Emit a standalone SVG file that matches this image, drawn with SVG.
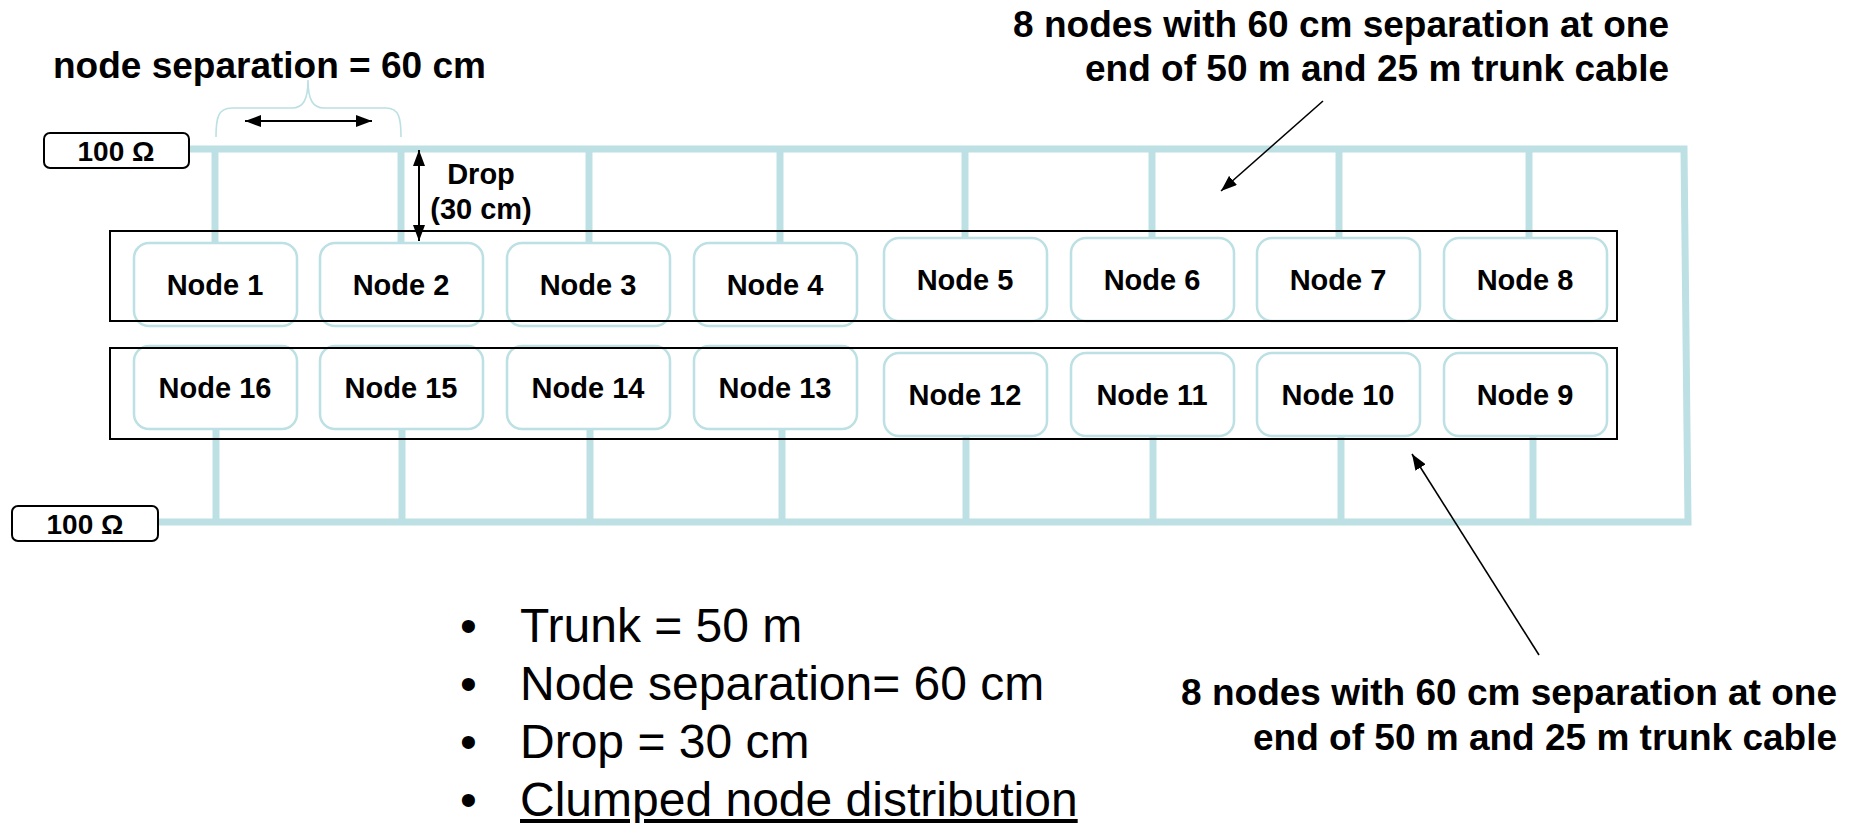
<svg xmlns="http://www.w3.org/2000/svg" width="1860" height="823" viewBox="0 0 1860 823">
<defs>
<style>
.cable{stroke:#bce0e3;stroke-width:7;fill:none;stroke-linecap:square}
.drop{stroke:#bce0e3;stroke-width:7;fill:none}
.node{fill:#ffffff;stroke:#bce0e3;stroke-width:2.5}
.lbl{font-family:"Liberation Sans",Arial,sans-serif;font-weight:bold;font-size:29px;fill:#000;text-anchor:middle}
.grp{fill:none;stroke:#000;stroke-width:2}
.term{fill:#fff;stroke:#000;stroke-width:2}
.bold{font-family:"Liberation Sans",Arial,sans-serif;font-weight:bold;fill:#000}
.reg{font-family:"Liberation Sans",Arial,sans-serif;fill:#000;font-size:48px}
.arr{stroke:#000;stroke-width:2;fill:none}
.thin{stroke:#000;stroke-width:1.6;fill:none}
</style>
<marker id="ah" viewBox="0 0 16 12" refX="16" refY="6" markerWidth="16" markerHeight="12" markerUnits="userSpaceOnUse" orient="auto-start-reverse">
<path d="M0,0 L16,6 L0,12 z" fill="#000"/>
</marker>
</defs>
<rect width="1860" height="823" fill="#ffffff"/>

<g id="connectors">
<path class="cable" d="M189,149 L1684,149 L1688,522 L158,522"/>
<line class="drop" x1="215" y1="149" x2="215" y2="244"/>
<line class="drop" x1="401" y1="149" x2="401" y2="244"/>
<line class="drop" x1="589" y1="149" x2="589" y2="244"/>
<line class="drop" x1="780" y1="149" x2="780" y2="244"/>
<line class="drop" x1="965" y1="149" x2="965" y2="239"/>
<line class="drop" x1="1152" y1="149" x2="1152" y2="239"/>
<line class="drop" x1="1339" y1="149" x2="1339" y2="239"/>
<line class="drop" x1="1529" y1="149" x2="1529" y2="239"/>
<line class="drop" x1="216" y1="428" x2="216" y2="522"/>
<line class="drop" x1="402" y1="428" x2="402" y2="522"/>
<line class="drop" x1="590" y1="428" x2="590" y2="522"/>
<line class="drop" x1="782" y1="428" x2="782" y2="522"/>
<line class="drop" x1="966" y1="435" x2="966" y2="522"/>
<line class="drop" x1="1153" y1="435" x2="1153" y2="522"/>
<line class="drop" x1="1341" y1="435" x2="1341" y2="522"/>
<line class="drop" x1="1533" y1="435" x2="1533" y2="522"/>
</g>

<g id="term-top">
<rect class="term" x="44" y="133" width="145" height="35" rx="6"/>
<text class="bold" x="116" y="161" font-size="28" text-anchor="middle">100 Ω</text>
</g>
<g id="term-bottom">
<rect class="term" x="12" y="506" width="146" height="35" rx="6"/>
<text class="bold" x="85" y="534" font-size="28" text-anchor="middle">100 Ω</text>
</g>

<g id="node1"><rect class="node" x="134" y="243" width="163" height="83" rx="15"/><text class="lbl" x="215" y="295">Node 1</text></g>
<g id="node2"><rect class="node" x="320" y="243" width="163" height="83" rx="15"/><text class="lbl" x="401" y="295">Node 2</text></g>
<g id="node3"><rect class="node" x="507" y="243" width="163" height="83" rx="15"/><text class="lbl" x="588" y="295">Node 3</text></g>
<g id="node4"><rect class="node" x="694" y="243" width="163" height="83" rx="15"/><text class="lbl" x="775" y="295">Node 4</text></g>
<g id="node5"><rect class="node" x="884" y="238" width="163" height="83" rx="15"/><text class="lbl" x="965" y="290">Node 5</text></g>
<g id="node6"><rect class="node" x="1071" y="238" width="163" height="83" rx="15"/><text class="lbl" x="1152" y="290">Node 6</text></g>
<g id="node7"><rect class="node" x="1257" y="238" width="163" height="83" rx="15"/><text class="lbl" x="1338" y="290">Node 7</text></g>
<g id="node8"><rect class="node" x="1444" y="238" width="163" height="83" rx="15"/><text class="lbl" x="1525" y="290">Node 8</text></g>

<g id="node16"><rect class="node" x="134" y="346" width="163" height="83" rx="15"/><text class="lbl" x="215" y="398">Node 16</text></g>
<g id="node15"><rect class="node" x="320" y="346" width="163" height="83" rx="15"/><text class="lbl" x="401" y="398">Node 15</text></g>
<g id="node14"><rect class="node" x="507" y="346" width="163" height="83" rx="15"/><text class="lbl" x="588" y="398">Node 14</text></g>
<g id="node13"><rect class="node" x="694" y="346" width="163" height="83" rx="15"/><text class="lbl" x="775" y="398">Node 13</text></g>
<g id="node12"><rect class="node" x="884" y="353" width="163" height="83" rx="15"/><text class="lbl" x="965" y="405">Node 12</text></g>
<g id="node11"><rect class="node" x="1071" y="353" width="163" height="83" rx="15"/><text class="lbl" x="1152" y="405">Node 11</text></g>
<g id="node10"><rect class="node" x="1257" y="353" width="163" height="83" rx="15"/><text class="lbl" x="1338" y="405">Node 10</text></g>
<g id="node9"><rect class="node" x="1444" y="353" width="163" height="83" rx="15"/><text class="lbl" x="1525" y="405">Node 9</text></g>

<g id="group-frames">
<rect class="grp" x="110" y="231" width="1507" height="90"/>
<rect class="grp" x="110" y="348" width="1507" height="91"/>
</g>

<g id="dimensions">
<path d="M216,137 C216,118 218,108 232,108 L292,108 C303,108 308,100 308,80 C308,100 313,108 324,108 L386,108 C399,108 401,118 401,137" fill="none" stroke="#bce0e3" stroke-width="1.6"/>
<line class="arr" x1="245" y1="121" x2="372" y2="121" marker-start="url(#ah)" marker-end="url(#ah)"/>
<line class="arr" x1="419" y1="150" x2="419" y2="241" marker-start="url(#ah)" marker-end="url(#ah)"/>
<text class="bold" x="53" y="78" font-size="37">node separation = 60 cm</text>
<text class="bold" x="481" y="184" font-size="29" text-anchor="middle">Drop</text>
<text class="bold" x="481" y="219" font-size="29" text-anchor="middle">(30 cm)</text>
</g>

<g id="annotation-top">
<text class="bold" font-size="37" text-anchor="end"><tspan x="1669" y="37">8 nodes with 60 cm separation at one</tspan><tspan x="1669" y="81">end of 50 m and 25 m trunk cable</tspan></text>
<line class="thin" x1="1323" y1="101" x2="1221" y2="191" marker-end="url(#ah)"/>
</g>

<g id="annotation-bottom">
<text class="bold" font-size="37" text-anchor="end"><tspan x="1837" y="705">8 nodes with 60 cm separation at one</tspan><tspan x="1837" y="750">end of 50 m and 25 m trunk cable</tspan></text>
<line class="thin" x1="1539" y1="655" x2="1412" y2="454" marker-end="url(#ah)"/>
</g>

<g id="bullets">
<text class="reg" x="460" y="642">•</text><text class="reg" x="520" y="642">Trunk = 50 m</text>
<text class="reg" x="460" y="700">•</text><text class="reg" x="520" y="700">Node separation= 60 cm</text>
<text class="reg" x="460" y="758">•</text><text class="reg" x="520" y="758">Drop = 30 cm</text>
<text class="reg" x="460" y="816">•</text><text class="reg" x="520" y="816" text-decoration="underline">Clumped node distribution</text>
</g>
</svg>
